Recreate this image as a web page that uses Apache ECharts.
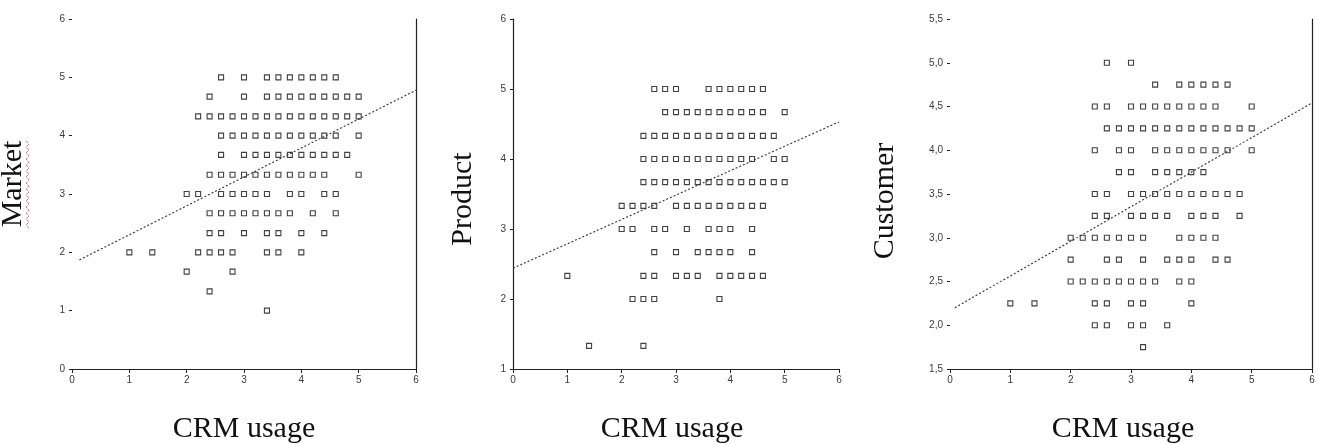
<!DOCTYPE html>
<html><head><meta charset="utf-8">
<script src="https://cdn.jsdelivr.net/npm/echarts@6/dist/echarts.min.js"></script>
<style>html,body{margin:0;padding:0;background:#fff}#c{width:1318px;height:444px}</style>
</head><body><div id="c"></div>
<script>
// ---- tick labels ----
const xTickLabels = ['0','1','2','3','4','5','6'];
const marketTickLabels = ['0','1','2','3','4','5','6'];
const productTickLabels = ['1','2','3','4','5','6'];
const customerTickLabels = ['1,5','2,0','2,5','3,0','3,5','4,0','4,5','5,0','5,5'];

// ---- titles ----
const xTitle = 'CRM usage';
const yTitles = ['Market', 'Product', 'Customer'];

// ---- Market vs CRM usage (rows: y level, x values in that row) ----
const marketY = [5, 4.67, 4.33, 4, 3.67, 3.33, 3, 2.67, 2.33, 2, 1.67, 1.33, 1];
const marketX = [
  [2.6,3.0,3.4,3.6,3.8,4.0,4.2,4.4,4.6],
  [2.4,3.0,3.4,3.6,3.8,4.0,4.2,4.4,4.6,4.8,5.0],
  [2.2,2.4,2.6,2.8,3.0,3.2,3.4,3.6,3.8,4.0,4.2,4.4,4.6,4.8,5.0],
  [2.6,2.8,3.0,3.2,3.4,3.6,3.8,4.0,4.2,4.4,4.6,5.0],
  [2.6,3.0,3.2,3.4,3.6,3.8,4.0,4.2,4.4,4.6,4.8],
  [2.4,2.6,2.8,3.0,3.2,3.4,3.6,3.8,4.0,4.2,4.4,5.0],
  [2.0,2.2,2.6,2.8,3.0,3.2,3.4,3.8,4.0,4.4,4.6],
  [2.4,2.6,2.8,3.0,3.2,3.4,3.6,3.8,4.2,4.6],
  [2.4,2.6,3.0,3.4,3.6,4.0,4.4],
  [1.0,1.4,2.2,2.4,2.6,2.8,3.4,3.6,4.0],
  [2.0,2.8],
  [2.4],
  [3.4]
];
const marketFitX = [0.13, 6];
const marketFitY = [1.87, 4.78];

// ---- Product vs CRM usage ----
const productY = [5, 4.67, 4.33, 4, 3.67, 3.33, 3, 2.67, 2.33, 2, 1.33];
const productX = [
  [2.6,2.8,3.0,3.6,3.8,4.0,4.2,4.4,4.6],
  [2.8,3.0,3.2,3.4,3.6,3.8,4.0,4.2,4.4,4.6,5.0],
  [2.4,2.6,2.8,3.0,3.2,3.4,3.6,3.8,4.0,4.2,4.4,4.6,4.8],
  [2.4,2.6,2.8,3.0,3.2,3.4,3.6,3.8,4.0,4.2,4.4,4.8,5.0],
  [2.4,2.6,2.8,3.0,3.2,3.4,3.6,3.8,4.0,4.2,4.4,4.6,4.8,5.0],
  [2.0,2.2,2.4,2.6,3.0,3.2,3.4,3.6,3.8,4.0,4.2,4.4,4.6],
  [2.0,2.2,2.6,2.8,3.2,3.6,3.8,4.0,4.4],
  [2.6,3.0,3.4,3.6,3.8,4.0,4.4],
  [1.0,2.4,2.6,3.0,3.2,3.4,3.8,4.0,4.2,4.4,4.6],
  [2.2,2.4,2.6,3.8],
  [1.4,2.4]
];
const productFitX = [0, 6];
const productFitY = [2.44, 4.53];

// ---- Customer vs CRM usage ----
const customerY = [5.0, 4.75, 4.5, 4.25, 4.0, 3.75, 3.5, 3.25, 3.0, 2.75, 2.5, 2.25, 2.0, 1.75];
const customerX = [
  [2.6,3.0],
  [3.4,3.8,4.0,4.2,4.4,4.6],
  [2.4,2.6,3.0,3.2,3.4,3.6,3.8,4.0,4.2,4.4,5.0],
  [2.6,2.8,3.0,3.2,3.4,3.6,3.8,4.0,4.2,4.4,4.6,4.8,5.0],
  [2.4,2.8,3.0,3.4,3.6,3.8,4.0,4.2,4.4,4.6,5.0],
  [2.8,3.0,3.4,3.6,3.8,4.0,4.2],
  [2.4,2.6,3.0,3.2,3.4,3.6,3.8,4.0,4.2,4.4,4.6,4.8],
  [2.4,2.6,3.0,3.2,3.4,3.6,4.0,4.2,4.4,4.8],
  [2.0,2.2,2.4,2.6,2.8,3.0,3.2,3.8,4.0,4.2,4.4],
  [2.0,2.6,2.8,3.2,3.6,3.8,4.0,4.4,4.6],
  [2.0,2.2,2.4,2.6,2.8,3.0,3.2,3.4,3.8,4.0],
  [1.0,1.4,2.4,2.6,3.0,3.2,4.0],
  [2.4,2.6,3.0,3.2,3.6],
  [3.2]
];
const customerFitX = [0.08, 6];
const customerFitY = [2.20, 4.54];

// ---------------------------------------------------------
function pts(ys, xs) {
  const out = [];
  ys.forEach((y, i) => xs[i].forEach(x => out.push([x, y])));
  return out;
}
function fit(xs, ys) { return xs.map((x, i) => [x, ys[i]]); }

const AX = '#222';
const LBL = { fontSize: 10, color: '#3a3a3a', fontFamily: 'Liberation Sans, Arial, sans-serif' };
const TITLE_FONT = '30px "Liberation Serif", "Times New Roman", serif';

const grids = [
  { left: 72, top: 19, width: 344, height: 350 },
  { left: 513, top: 19, width: 326, height: 350 },
  { left: 950, top: 19, width: 362, height: 350 }
];

function xAxisFor(gi) {
  return {
    type: 'value', gridIndex: gi, min: 0, max: 6, interval: 1,
    axisLine: { show: true, lineStyle: { color: AX, width: 1.2 } },
    axisTick: { show: true, length: 4, lineStyle: { color: AX } },
    axisLabel: Object.assign({ margin: 6, formatter: v => xTickLabels[Math.round(v)] }, LBL),
    splitLine: { show: false }
  };
}
function yAxisFor(gi, min, max, interval, labels, showLine) {
  return {
    type: 'value', gridIndex: gi, min: min, max: max, interval: interval,
    axisLine: { show: showLine, lineStyle: { color: AX, width: 1.2 } },
    axisTick: { show: true, length: 3, lineStyle: { color: AX } },
    axisLabel: Object.assign({ margin: 7, formatter: v => labels[Math.round((v - min) / interval)] }, LBL),
    splitLine: { show: false }
  };
}
function borderAxis(gi, min, max) {
  return {
    type: 'value', gridIndex: gi, min: min, max: max, position: 'right',
    axisLine: { show: true, lineStyle: { color: AX, width: 1.2 } },
    axisTick: { show: false }, axisLabel: { show: false }, splitLine: { show: false }
  };
}

const scatterStyle = {
  symbol: 'rect', symbolSize: 5,
  itemStyle: { color: 'rgba(255,255,255,0)', borderColor: '#111', borderWidth: 1.1 }
};
const fitStyle = {
  type: 'line', showSymbol: false, symbol: 'none',
  lineStyle: { color: '#333', width: 1.1, type: [2, 2] }
};

// red squiggle under "Market"
const squiggle = [];
for (let y = 141, k = 0; y <= 229; y += 3, k++) squiggle.push([k % 2 ? 29 : 26, y]);

const titleStyle = (t) => ({ text: t, font: TITLE_FONT, fill: '#111', textAlign: 'center', textVerticalAlign: 'middle' });

const option = {
  animation: false,
  grid: grids,
  xAxis: [xAxisFor(0), xAxisFor(1), xAxisFor(2)],
  yAxis: [
    yAxisFor(0, 0, 6, 1, marketTickLabels, false),
    yAxisFor(1, 1, 6, 1, productTickLabels, true),
    yAxisFor(2, 1.5, 5.5, 0.5, customerTickLabels, false),
    borderAxis(0, 0, 6),
    borderAxis(2, 1.5, 5.5)
  ],
  series: [
    Object.assign({ type: 'scatter', xAxisIndex: 0, yAxisIndex: 0, data: pts(marketY, marketX) }, scatterStyle),
    Object.assign({ xAxisIndex: 0, yAxisIndex: 0, data: fit(marketFitX, marketFitY) }, fitStyle),
    Object.assign({ type: 'scatter', xAxisIndex: 1, yAxisIndex: 1, data: pts(productY, productX) }, scatterStyle),
    Object.assign({ xAxisIndex: 1, yAxisIndex: 1, data: fit(productFitX, productFitY) }, fitStyle),
    Object.assign({ type: 'scatter', xAxisIndex: 2, yAxisIndex: 2, data: pts(customerY, customerX) }, scatterStyle),
    Object.assign({ xAxisIndex: 2, yAxisIndex: 2, data: fit(customerFitX, customerFitY) }, fitStyle)
  ],
  graphic: [
    { type: 'text', x: 244, y: 429, style: titleStyle(xTitle) },
    { type: 'text', x: 672, y: 429, style: titleStyle(xTitle) },
    { type: 'text', x: 1123, y: 429, style: titleStyle(xTitle) },
    { type: 'text', x: 13, y: 184, rotation: Math.PI / 2, style: titleStyle(yTitles[0]) },
    { type: 'text', x: 463, y: 199, rotation: Math.PI / 2, style: titleStyle(yTitles[1]) },
    { type: 'text', x: 885, y: 201, rotation: Math.PI / 2, style: titleStyle(yTitles[2]) },
    { type: 'polyline', shape: { points: squiggle }, style: { stroke: '#e03030', lineWidth: 1, fill: null, lineDash: [1, 1] } }
  ]
};

const chart = echarts.init(document.getElementById('c'), null, { renderer: 'canvas' });
chart.setOption(option);
</script>
</body></html>
